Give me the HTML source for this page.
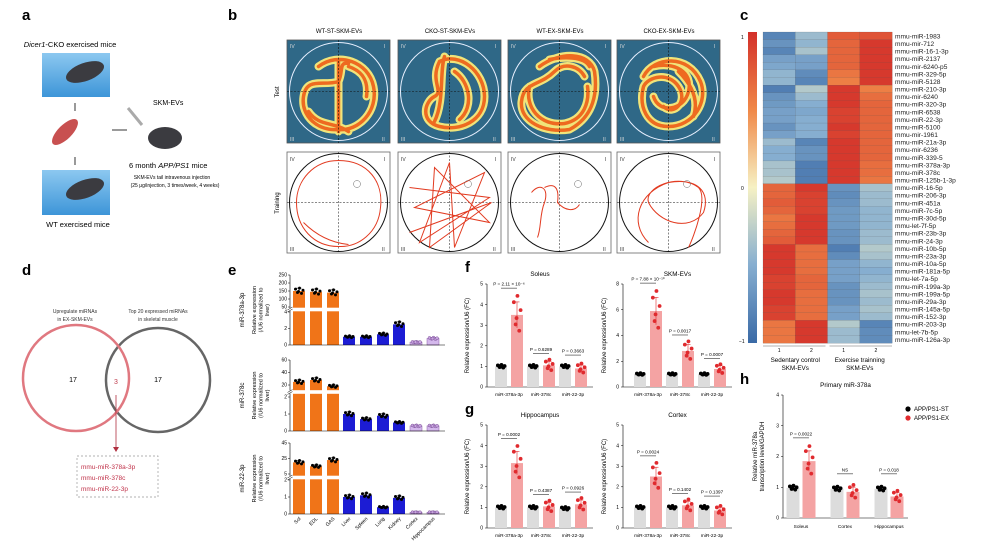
<!DOCTYPE html>
<html><head><meta charset="utf-8"><style>
html,body{margin:0;padding:0;background:#fff}
svg{display:block;font-family:"Liberation Sans",sans-serif}
</style></head><body>
<svg id="fig" width="1000" height="550" viewBox="0 0 1000 550" xmlns="http://www.w3.org/2000/svg">
<defs>
<linearGradient id="cbar" x1="0" y1="1" x2="0" y2="0">
<stop offset="0" stop-color="#3a6aa6"/><stop offset="0.25" stop-color="#86aed0"/><stop offset="0.5" stop-color="#f6f1c4"/><stop offset="0.75" stop-color="#f08848"/><stop offset="1" stop-color="#d3302a"/>
</linearGradient>
<linearGradient id="water" x1="0" y1="0" x2="0" y2="1"><stop offset="0" stop-color="#8cc8f0"/><stop offset="1" stop-color="#3d95d8"/></linearGradient>
</defs>
<g id="panel-a">
<text x="22" y="20" font-size="15" font-weight="bold">a</text>
<text x="70" y="47" font-size="7.5" text-anchor="middle"><tspan font-style="italic">Dicer1</tspan>-CKO exercised mice</text>
<rect x="42" y="53" width="68" height="44" fill="url(#water)"/>
<ellipse cx="85" cy="72" rx="20" ry="9" fill="#3b3b40" transform="rotate(-20 85 72)"/>
<line x1="75" y1="103" x2="75" y2="111" stroke="#000" stroke-width="0.8"/>
<ellipse cx="65" cy="132" rx="7" ry="17" fill="#c85050" transform="rotate(45 65 132)"/>
<line x1="75" y1="165" x2="75" y2="157" stroke="#000" stroke-width="0.8"/>
<rect x="42" y="170" width="68" height="45" fill="url(#water)"/>
<ellipse cx="85" cy="189" rx="20" ry="9" fill="#3b3b40" transform="rotate(-20 85 189)"/>
<text x="78" y="227" font-size="7.5" text-anchor="middle">WT exercised mice</text>
<line x1="112" y1="130" x2="127" y2="130" stroke="#000" stroke-width="0.8"/>
<line x1="128" y1="108" x2="142" y2="125" stroke="#aaa" stroke-width="3"/>
<text x="153" y="105" font-size="7">SKM-EVs</text>
<ellipse cx="165" cy="138" rx="17" ry="11" fill="#3b3b40"/>
<text x="129" y="168" font-size="7.5">6 month <tspan font-style="italic">APP/PS1</tspan> mice</text>
<text x="172" y="179" font-size="5" text-anchor="middle">SKM-EVs tail intravenous injection</text>
<text x="175" y="187" font-size="5" text-anchor="middle">(25 μg/injection, 3 times/week, 4 weeks)</text>
</g>
<g id="panel-b">
<text x="228" y="20" font-size="15" font-weight="bold">b</text>
<text x="279" y="92" font-size="6" transform="rotate(-90 279 92)" text-anchor="middle">Test</text>
<text x="279" y="203" font-size="6" transform="rotate(-90 279 203)" text-anchor="middle">Training</text>
</g>
<g id="panel-c">
<text x="740" y="20" font-size="15" font-weight="bold">c</text>
<rect x="748" y="32" width="9" height="311" fill="url(#cbar)"/>
<text x="741" y="39" font-size="5">1</text>
<text x="741" y="190" font-size="5">0</text>
<text x="739" y="343" font-size="5">−1</text>
</g>
<g id="panel-d">
<text x="22" y="275" font-size="15" font-weight="bold">d</text>
<text x="75" y="313" font-size="5" text-anchor="middle" fill="#333">Upregulate miRNAs</text>
<text x="75" y="321" font-size="5" text-anchor="middle" fill="#333">in EX-SKM-EVs</text>
<text x="158" y="313" font-size="5" text-anchor="middle" fill="#333">Top 20 expressed miRNAs</text>
<text x="158" y="321" font-size="5" text-anchor="middle" fill="#333">in skeletal muscle</text>
<circle cx="158" cy="380" r="52" fill="none" stroke="#666" stroke-width="2.5"/>
<circle cx="76" cy="378" r="53" fill="none" stroke="#e07880" stroke-width="2.5"/>
<text x="73" y="382" font-size="7" text-anchor="middle">17</text>
<text x="116" y="384" font-size="7" text-anchor="middle" fill="#c04050">3</text>
<text x="158" y="382" font-size="7" text-anchor="middle">17</text>
<line x1="116" y1="395" x2="116" y2="448" stroke="#b03040" stroke-width="0.8"/>
<polygon points="113,447 119,447 116,452" fill="#b03040"/>
<rect x="77" y="456" width="81" height="41" fill="none" stroke="#999" stroke-dasharray="2,2" stroke-width="0.7"/>
<text x="81" y="469" font-size="6.5" fill="#c03048">mmu-miR-378a-3p</text>
<text x="81" y="480" font-size="6.5" fill="#c03048">mmu-miR-378c</text>
<text x="81" y="491" font-size="6.5" fill="#c03048">mmu-miR-22-3p</text>
</g>
<g id="panel-e">
<text x="228" y="275" font-size="15" font-weight="bold">e</text>
</g>
<g id="panel-fg">
<text x="465" y="272" font-size="15" font-weight="bold">f</text>
<text x="465" y="414" font-size="15" font-weight="bold">g</text>
</g>
<g id="panel-h">
<text x="740" y="384" font-size="15" font-weight="bold">h</text>
</g>
</svg>
<script>
// ---- heatmap data ----
const hmRows=["mmu-miR-1983","mmu-mir-712","mmu-miR-16-1-3p","mmu-miR-2137","mmu-mir-6240-p5","mmu-miR-329-5p","mmu-miR-5128","mmu-miR-210-3p","mmu-mir-6240","mmu-miR-320-3p","mmu-miR-6538","mmu-miR-22-3p","mmu-miR-5100","mmu-mir-1961","mmu-miR-21a-3p","mmu-mir-6236","mmu-miR-339-5","mmu-miR-378a-3p","mmu-miR-378c","mmu-miR-125b-1-3p","mmu-miR-16-5p","mmu-miR-206-3p","mmu-miR-451a","mmu-miR-7c-5p","mmu-miR-30d-5p","mmu-let-7f-5p","mmu-miR-23b-3p","mmu-miR-24-3p","mmu-miR-10b-5p","mmu-miR-23a-3p","mmu-miR-10a-5p","mmu-miR-181a-5p","mmu-let-7a-5p","mmu-miR-199a-3p","mmu-miR-199a-5p","mmu-miR-29a-3p","mmu-miR-145a-5p","mmu-miR-152-3p","mmu-miR-203-3p","mmu-let-7b-5p","mmu-miR-126a-3p"];
const hmCol1=[-0.8,-0.7,-0.8,-0.6,-0.55,-0.45,-0.45,-0.85,-0.7,-0.65,-0.6,-0.6,-0.7,-0.6,-0.4,-0.5,-0.5,-0.35,-0.35,-0.3,0.7,0.7,0.75,0.7,0.6,0.65,0.7,0.75,0.95,0.95,0.95,0.95,0.9,0.9,0.95,0.95,0.9,0.9,0.6,0.6,0.6];
const hmCol2=[-0.4,-0.45,-0.35,-0.6,-0.6,-0.75,-0.8,-0.3,-0.4,-0.5,-0.55,-0.5,-0.5,-0.5,-0.8,-0.7,-0.7,-0.85,-0.85,-0.85,0.95,0.9,0.9,0.9,0.95,0.95,0.95,0.95,0.65,0.65,0.65,0.65,0.7,0.7,0.65,0.65,0.65,0.65,0.95,0.95,0.95];
const hmCol3=[0.75,0.7,0.7,0.7,0.7,0.6,0.55,0.95,0.95,0.95,0.9,0.9,0.95,0.9,0.95,0.95,0.95,0.95,0.95,0.95,-0.7,-0.75,-0.7,-0.65,-0.65,-0.65,-0.7,-0.7,-0.85,-0.75,-0.6,-0.6,-0.6,-0.7,-0.7,-0.7,-0.6,-0.6,-0.3,-0.4,-0.4];
const hmCol4=[0.8,0.95,0.95,0.95,0.95,0.95,0.95,0.55,0.65,0.7,0.7,0.7,0.7,0.7,0.7,0.7,0.7,0.65,0.65,0.6,-0.35,-0.4,-0.4,-0.45,-0.45,-0.45,-0.4,-0.4,-0.3,-0.35,-0.45,-0.5,-0.45,-0.4,-0.35,-0.4,-0.35,-0.4,-0.8,-0.75,-0.75];
const hmColLabels=["1","2","1","2"];
// ---- panel e data ----
const eCats=["Sol","EDL","GAS","Liver","Spleen","Lung","Kidney","Cortex","Hippocampus"];
const e1Vals=[150,145,140,1.0,1.0,1.3,2.5,0.35,0.8];
const e2Vals=[25,28,18,1.0,0.7,0.9,0.5,0.3,0.3];
const e3Vals=[20,15,23,1.0,1.1,0.4,0.95,0.1,0.1];
const eGenes=["miR-378a-3p","miR-378c","miR-22-3p"];
const e1UpTicks=[50,100,150,200,250], e1LowTicks=[0,2,4];
const e2UpTicks=[20,40,60], e2LowTicks=[0,1,2];
const e3UpTicks=[5,25,45], e3LowTicks=[0,1,2];
// ---- panel f/g data ----
const fgCats=["miR-378a-3p","miR-378c","miR-22-3p"];
const soleusCtrl=[1,1,1], soleusEx=[3.5,1.05,0.9];
const skmCtrl=[1,1,1], skmEx=[5.9,2.8,1.4];
const hippoCtrl=[1,1,0.95], hippoEx=[3.15,1.05,1.15];
const cortexCtrl=[1,1,1], cortexEx=[2.5,1.1,0.85];
const soleusP=["P = 2.11 × 10⁻⁶","P = 0.6289","P = 0.3663"];
const skmP=["P = 7.88 × 10⁻¹⁰","P = 0.0017","P = 0.0007"];
const hippoP=["P = 0.0002","P = 0.4387","P = 0.0926"];
const cortexP=["P = 0.0024","P = 0.1402","P = 0.1397"];
const ticks5=[0,1,2,3,4,5], ticks8=[0,2,4,6,8];
// ---- panel h data ----
const hCats=["Soleus","Cortex","Hippocampus"];
const hST=[0.98,0.95,0.95], hEX=[1.85,0.85,0.7];
const hP=["P = 0.0022","NS","P = 0.018"];
const hTicks=[0,1,2,3,4];

const svg=document.getElementById('fig');
const NS='http://www.w3.org/2000/svg';
function mk(tag,attrs,parent,text){const e=document.createElementNS(NS,tag);for(const k in attrs)e.setAttribute(k,attrs[k]);if(text!==undefined)e.textContent=text;(parent||svg).appendChild(e);return e;}
// jitter pattern for replicate dots (visual only)
const jx=[-3.5,-1.5,0.5,2.5,4,-0.5], jy=[0.08,-0.06,0.12,-0.1,0.03,-0.02];

// ---- heatmap ----
function hmColor(v){const stops=[[-1,[58,106,166]],[-0.5,[134,174,208]],[0,[246,241,196]],[0.5,[240,136,72]],[1,[211,48,42]]];
 for(let i=0;i<stops.length-1;i++){const a=stops[i],b=stops[i+1];if(v<=b[0]){const t=(v-a[0])/(b[0]-a[0]);return 'rgb('+a[1].map((c,j)=>Math.round(c+(b[1][j]-c)*t)).join(',')+')';}}return 'rgb(211,48,42)';}
(function(){const g=document.getElementById('panel-c');const x0=763,x1=892,y0=32,y1=343;const cols=[hmCol1,hmCol2,hmCol3,hmCol4];
 const cw=(x1-x0)/4,rh=(y1-y0)/hmRows.length;
 cols.forEach((col,ci)=>{col.forEach((v,ri)=>{const r=mk('rect',{x:x0+ci*cw,y:y0+ri*rh,width:cw+0.3,height:rh+0.3,fill:hmColor(v),stroke:'#555','stroke-width':0.15},g);
  
  });});
 hmRows.forEach((n,ri)=>{const t=mk('text',{x:x1+3,y:y0+ri*rh+rh*0.85,'font-size':6.6,fill:'#222'},g,n);
  
  });
 hmColLabels.forEach((n,ci)=>{const t=mk('text',{x:x0+ci*cw+cw/2,y:352,'font-size':5,'text-anchor':'middle'},g,n);
  
  });
 mk('line',{x1:x0,x2:x0+2*cw-2,y1:346,y2:346,stroke:'#666','stroke-width':0.5},g);
 mk('line',{x1:x0+2*cw+2,x2:x1,y1:346,y2:346,stroke:'#666','stroke-width':0.5},g);
 [["Sedentary control","SKM-EVs",x0+cw],["Exercise trainning","SKM-EVs",x0+3*cw]].forEach(a=>{
  const t1=mk('text',{x:a[2],y:362,'font-size':6.3,'text-anchor':'middle'},g,a[0]);
  
  
  const t2=mk('text',{x:a[2],y:370,'font-size':6.3,'text-anchor':'middle'},g,a[1]);
  
  });
})();

// ---- panel b (track images) ----
(function(){const g=document.getElementById('panel-b');const xs=[287,398,508,617];const titles=["WT-ST-SKM-EVs","CKO-ST-SKM-EVs","WT-EX-SKM-EVs","CKO-EX-SKM-EVs"];
 const testPaths=["M30,25 C50,10 80,20 85,45 C90,70 70,90 50,88 C30,90 12,75 15,55 C18,35 35,45 50,40 C55,30 50,20 60,22 M50,20 L50,90 M20,70 C30,85 45,80 60,90 M60,25 C75,30 80,40 78,55",
 "M40,20 C60,10 85,30 85,55 C85,80 60,90 40,85 C20,80 25,60 35,55 C45,50 30,40 40,20 M45,15 C40,30 45,60 35,80 M55,30 C70,40 75,65 60,78",
 "M30,25 C50,10 80,10 85,30 C88,50 85,75 60,88 C35,92 10,80 12,60 C14,40 30,45 45,30 C55,20 70,25 75,35 M20,45 C15,65 30,85 55,82 C75,78 80,60 78,45 M40,18 C55,15 75,15 80,25",
 "M25,35 C35,15 70,12 82,40 C90,60 75,85 50,85 C28,85 20,65 25,45 C30,35 50,30 60,45 C70,60 55,75 45,65 M35,25 C55,20 75,30 70,50 C65,70 40,72 35,55 M60,30 C75,45 80,60 75,75"];
 const trainPaths=["M50,8 C80,8 95,30 92,55 C90,80 70,95 50,94 C25,94 8,75 8,50 C8,28 25,8 50,8 M15,70 C25,80 40,90 60,92",
 "M10,35 L90,45 L20,90 L50,10 L55,95 L85,20 L15,55 L90,70 L35,15 L30,95 L92,50 L10,80",
 "M22,40 C30,30 40,35 35,50 C30,62 32,75 28,85 M35,35 C45,30 50,35 48,50 C55,58 65,60 70,52",
 "M30,90 C10,70 20,40 50,30 C80,25 92,40 85,60 C70,80 40,70 30,50 C25,35 60,20 80,35 C90,45 75,85 70,95"];
 xs.forEach((x,i)=>{
  const t=mk('text',{x:x+52,y:33,'font-size':6,'text-anchor':'middle'},g,titles[i]);
  
  
  const bg=mk('rect',{x:x,y:40,width:103,height:103,fill:'#2f6887',stroke:'#555','stroke-width':0.8},g);
  
  
  mk('circle',{cx:x+51.5,cy:91.5,r:49,fill:'none',stroke:'#e8f0ff','stroke-width':1},g);
  const tg=mk('g',{transform:'translate('+(x+1.5)+',41.5)'},g);
  mk('path',{d:testPaths[i],fill:'none',stroke:'#f0e47a','stroke-width':8,'stroke-linecap':'round','stroke-linejoin':'round'},tg);
  mk('path',{d:testPaths[i],fill:'none',stroke:'#ee6a20','stroke-width':3.5,'stroke-linecap':'round','stroke-linejoin':'round'},tg);
  mk('line',{x1:x+51.5,x2:x+51.5,y1:40,y2:143,stroke:'#111','stroke-width':0.6,'stroke-dasharray':'2,1.5'},g);
  mk('line',{x1:x,x2:x+103,y1:91.5,y2:91.5,stroke:'#111','stroke-width':0.6,'stroke-dasharray':'2,1.5'},g);
  const tb=mk('rect',{x:x,y:152,width:103,height:101,fill:'#fff',stroke:'#666','stroke-width':0.8},g);
  
  
  mk('circle',{cx:x+51.5,cy:202.5,r:49,fill:'none',stroke:'#111','stroke-width':1},g);
  mk('line',{x1:x+51.5,x2:x+51.5,y1:152,y2:253,stroke:'#111','stroke-width':0.5,'stroke-dasharray':'2,1.5'},g);
  mk('line',{x1:x,x2:x+103,y1:202.5,y2:202.5,stroke:'#111','stroke-width':0.5,'stroke-dasharray':'2,1.5'},g);
  const trg=mk('g',{transform:'translate('+(x+1.5)+',152.5)'},g);
  mk('path',{d:trainPaths[i],fill:'none',stroke:'#e23a20','stroke-width':1},trg);
  mk('circle',{cx:x+70,cy:184,r:3.5,fill:'none',stroke:'#666','stroke-width':0.5},g);
  [['IV',x+3,48,'#ddd'],['I',x+97,48,'#ddd'],['III',x+3,141,'#ddd'],['II',x+95,141,'#ddd'],['IV',x+3,161,'#333'],['I',x+97,161,'#333'],['III',x+3,251,'#333'],['II',x+95,251,'#333']].forEach(q=>{
   const qt=mk('text',{x:q[1],y:q[2],'font-size':5,fill:q[3]},g,q[0]);
   
   });
 });
})();

// ---- panel e ----
(function(){const g=document.getElementById('panel-e');const xc=[299,316,333,349,366,383,399,416,433];const ax0=290,ax1=445;
 const cfg=[
  {vals:e1Vals,y0:345,lowMax:4,yLowTop:312,uA:50,uAy:307,uB:250,uBy:275,brk:309.5,up:e1UpTicks,low:e1LowTicks,top:275},
  {vals:e2Vals,y0:431,lowMax:2,yLowTop:397,uA:20,uAy:385,uB:60,uBy:360,brk:392,up:e2UpTicks,low:e2LowTicks,top:360},
  {vals:e3Vals,y0:514,lowMax:2,yLowTop:480,uA:5,uAy:474,uB:45,uBy:443,brk:477.5,up:e3UpTicks,low:e3LowTicks,top:443}];
 const colors=['#f07418','#f07418','#f07418','#1c1cd4','#1c1cd4','#1c1cd4','#1c1cd4','#d4b8ec','#d4b8ec'];
 cfg.forEach((c,si)=>{
  const yL=v=>c.y0-(v/c.lowMax)*(c.y0-c.yLowTop);
  const yU=v=>c.uAy-(v-c.uA)/(c.uB-c.uA)*(c.uAy-c.uBy);
  const yv=v=>v>c.lowMax?yU(v):yL(v);
  c.vals.forEach((v,i)=>{const top=yv(v);
   const b=mk('rect',{x:xc[i]-6,y:top,width:12,height:c.y0-top,fill:colors[i],stroke:i>6?'#8a5aa8':'none','stroke-width':0.5},g);
   
   
   const err=v*0.12;mk('line',{x1:xc[i],x2:xc[i],y1:yv(v+err),y2:top,stroke:'#000','stroke-width':0.6},g);
   mk('line',{x1:xc[i]-2.5,x2:xc[i]+2.5,y1:yv(v+err),y2:yv(v+err),stroke:'#000','stroke-width':0.6},g);
   jx.forEach((dx,k)=>{const d=mk('circle',{cx:xc[i]+dx,cy:yv(v*(1+jy[k])),r:1.5,fill:i>6?'#c9a6e0':'#000',stroke:i>6?'#6a3a88':'none','stroke-width':0.4},g);
    
    });
  });
  mk('rect',{x:ax0-3,y:c.brk-1.8,width:ax1-ax0+5,height:3.6,fill:'#fff'},g);
  mk('line',{x1:ax0,x2:ax0,y1:c.top,y2:c.y0,stroke:'#000','stroke-width':0.6},g);
  mk('rect',{x:ax0-3,y:c.brk-1.5,width:5,height:3,fill:'#fff'},g);
  mk('line',{x1:ax0-2.5,x2:ax0+2.5,y1:c.brk+0.5,y2:c.brk-2.5,stroke:'#000','stroke-width':0.5},g);
  mk('line',{x1:ax0-2.5,x2:ax0+2.5,y1:c.brk+2.5,y2:c.brk-0.5,stroke:'#000','stroke-width':0.5},g);
  mk('line',{x1:ax0,x2:ax1,y1:c.y0,y2:c.y0,stroke:'#000','stroke-width':0.6},g);
  c.up.forEach(t=>{const y=yU(t);mk('line',{x1:ax0-2,x2:ax0,y1:y,y2:y,stroke:'#000','stroke-width':0.5},g);
   const tt=mk('text',{x:ax0-3,y:y+1.7,'font-size':5,'text-anchor':'end'},g,t);
   
   });
  c.low.forEach(t=>{const y=yL(t);mk('line',{x1:ax0-2,x2:ax0,y1:y,y2:y,stroke:'#000','stroke-width':0.5},g);
   const tt=mk('text',{x:ax0-3,y:y+1.7,'font-size':5,'text-anchor':'end'},g,t);
   
   });
  const mid=(c.top+c.y0)/2;
  const gt=mk('text',{x:244,y:mid,'font-size':6,'text-anchor':'middle',transform:'rotate(-90 244 '+mid+')'},g,eGenes[si]);
  
  
  ['Relative expression','(/U6 normalized to','liver)'].forEach((s,k)=>{const x=256+k*6.5;
   const yt=mk('text',{x:x,y:mid,'font-size':5.5,'text-anchor':'middle',transform:'rotate(-90 '+x+' '+mid+')'},g,s);
   
   });
 });
 eCats.forEach((n,i)=>{const x=xc[i]+2,y=519;
  const t=mk('text',{x:x,y:y,'font-size':5,'text-anchor':'end',transform:'rotate(-45 '+x+' '+y+')'},g,n);
  
  });
})();

// ---- grouped bar plots f/g/h ----
function groupPlot(o){const g=document.getElementById(o.gid);
 const y=v=>o.y0-v/o.yMax*(o.y0-o.yTop);
 mk('line',{x1:o.ax0,x2:o.ax0,y1:o.yTop,y2:o.y0,stroke:'#000','stroke-width':0.6},g);
 mk('line',{x1:o.ax0,x2:o.ax1,y1:o.y0,y2:o.y0,stroke:'#000','stroke-width':0.6},g);
 o.ticks.forEach(t=>{mk('line',{x1:o.ax0-2,x2:o.ax0,y1:y(t),y2:y(t),stroke:'#000','stroke-width':0.5},g);
  const tt=mk('text',{x:o.ax0-4,y:y(t)+1.7,'font-size':5,'text-anchor':'end'},g,t);
  
  });
 const tl=mk('text',{x:(o.ax0+o.ax1)/2,y:o.yTop-8,'font-size':6.3,'text-anchor':'middle'},g,o.title);
 
 
 const ym=(o.yTop+o.y0)/2;
 o.ylab.forEach((s,k)=>{const x=o.ylx+k*7;
  const yt=mk('text',{x:x,y:ym,'font-size':6,'text-anchor':'middle',transform:'rotate(-90 '+x+' '+ym+')'},g,s);
  
  });
 o.cats.forEach((n,i)=>{const xg=o.xg[i];
  [[o.ctrl[i],xg-o.off,'#dcdcdc','#000'],[o.ex[i],xg+o.off,'#f4a3a3','#e02a2e']].forEach((s,k)=>{
   const b=mk('rect',{x:s[1]-o.bw/2,y:y(s[0]),width:o.bw,height:o.y0-y(s[0]),fill:s[2]},g);
   
   
   const sd=s[0]*(k?0.18:0.08);
   mk('line',{x1:s[1],x2:s[1],y1:y(s[0]+sd),y2:y(s[0]-sd),stroke:s[3],'stroke-width':0.6},g);
   mk('line',{x1:s[1]-2.5,x2:s[1]+2.5,y1:y(s[0]+sd),y2:y(s[0]+sd),stroke:s[3],'stroke-width':0.6},g);
   jx.forEach((dx,j)=>{const d=mk('circle',{cx:s[1]+dx*0.9,cy:y(s[0]*(1+jy[j]*(k?2.2:0.6))),r:1.9,fill:s[3]},g);
    
    });
  });
  const top=Math.max(o.ctrl[i],o.ex[i])*(1.3)+o.yMax*0.05;
  mk('line',{x1:xg-o.off,x2:xg+o.off,y1:y(top),y2:y(top),stroke:'#000','stroke-width':0.5},g);
  const pt=mk('text',{x:xg,y:y(top)-2.5,'font-size':4.6,'text-anchor':'middle'},g,o.p[i]);
  
  
  const xt=mk('text',{x:xg,y:o.y0+(o.xly||9),'font-size':o.xfs||4.8,'text-anchor':'middle'},g,n);
  
  
 });
}
const rel=['Relative expression/U6 (FC)'];
groupPlot({gid:'panel-fg',title:'Soleus',cats:fgCats,ctrl:soleusCtrl,ex:soleusEx,p:soleusP,ticks:ticks5,yMax:5,y0:387,yTop:284,ax0:487,ax1:593,xg:[509,541,573],off:8,bw:12,ylab:rel,ylx:469});
groupPlot({gid:'panel-fg',title:'SKM-EVs',cats:fgCats,ctrl:skmCtrl,ex:skmEx,p:skmP,ticks:ticks8,yMax:8,y0:387,yTop:284,ax0:623,ax1:732,xg:[648,680,712],off:8,bw:12,ylab:rel,ylx:606});
groupPlot({gid:'panel-fg',title:'Hippocampus',cats:fgCats,ctrl:hippoCtrl,ex:hippoEx,p:hippoP,ticks:ticks5,yMax:5,y0:528,yTop:425,ax0:487,ax1:593,xg:[509,541,573],off:8,bw:12,ylab:rel,ylx:469});
groupPlot({gid:'panel-fg',title:'Cortex',cats:fgCats,ctrl:cortexCtrl,ex:cortexEx,p:cortexP,ticks:ticks5,yMax:5,y0:528,yTop:425,ax0:623,ax1:732,xg:[648,680,712],off:8,bw:12,ylab:rel,ylx:606});
groupPlot({gid:'panel-h',title:'Primary miR-378a',cats:hCats,ctrl:hST,ex:hEX,p:hP,ticks:hTicks,yMax:4,y0:518,yTop:395,ax0:783,ax1:908,xg:[801,845,889],off:8,bw:13,ylab:['Relative miR-378a','transcription level/GAPDH'],ylx:757,xly:10});
(function(){const g=document.getElementById('panel-h');
 [['APP/PS1-ST','#000',409],['APP/PS1-EX','#e02a2e',418]].forEach(l=>{
  const c=mk('circle',{cx:908,cy:l[2],r:2.6,fill:l[1]},g);
  
  
  const t=mk('text',{x:914,y:l[2]+2.2,'font-size':6},g,l[0]);
  
  });
})();
</script>
</body></html>
